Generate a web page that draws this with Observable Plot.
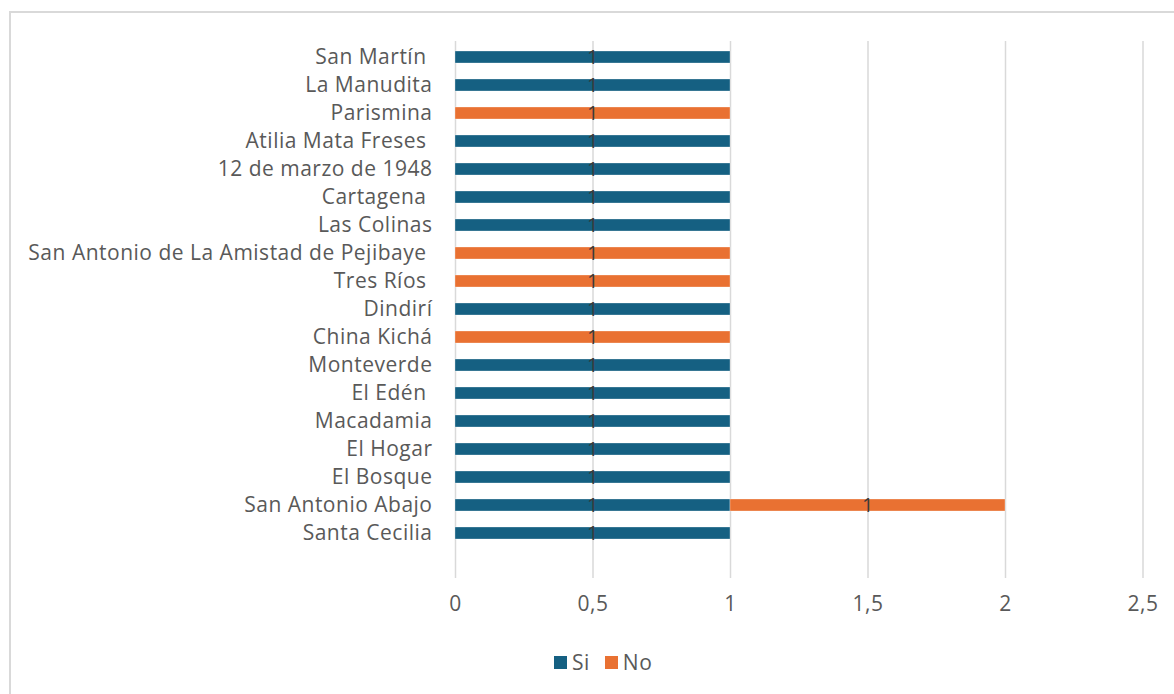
<!DOCTYPE html>
<html>
<head>
<meta charset="utf-8">
<script src="https://cdn.jsdelivr.net/npm/d3@7"></script>
<script src="https://cdn.jsdelivr.net/npm/@observablehq/plot@0.6"></script>
<style>
  html, body { margin: 0; padding: 0; background: #fff; overflow: hidden; }
  #frame { position: absolute; left: 9px; top: 11px; width: 1200px; height: 720px; border: 2px solid #d9d9d9; box-sizing: border-box; }
  #chart { position: absolute; left: 0; top: 0; }
  #chart svg text { letter-spacing: 0.5px; }
  #legend { position: absolute; top: 648px; left: 554px; display: flex; font-family: "Open Sans", sans-serif; font-size: 21px; letter-spacing: 0.5px; color: #595959; }
  .item { display: flex; align-items: center; margin-right: 15px; }
  .sw { width: 13px; height: 13px; margin-right: 5px; }
</style>
</head>
<body>
<div id="frame"></div>
<div id="chart"></div>
<div id="legend"></div>
<script>
const categories = ["San Martín ", "La Manudita", "Parismina", "Atilia Mata Freses ", "12 de marzo de 1948", "Cartagena ", "Las Colinas", "San Antonio de La Amistad de Pejibaye ", "Tres Ríos ", "Dindirí", "China Kichá", "Monteverde", "El Edén ", "Macadamia", "El Hogar", "El Bosque", "San Antonio Abajo", "Santa Cecilia"];
const siValues = [1, 1, null, 1, 1, 1, 1, null, null, 1, null, 1, 1, 1, 1, 1, 1, 1];
const noValues = [null, null, 1, null, null, null, null, 1, 1, null, 1, null, null, null, null, null, 1, null];
const seriesNames = ["Si", "No"];
const seriesColors = ["#156082", "#E97132"];
const xTicks = [0, 0.5, 1, 1.5, 2, 2.5];

const rows = [];
categories.forEach((c, i) => {
  if (siValues[i] != null) rows.push({cat: c, series: "Si", value: siValues[i]});
  if (noValues[i] != null) rows.push({cat: c, series: "No", value: noValues[i]});
});

const fmt = v => String(v).replace(".", ",");
const font = "Open Sans, sans-serif";
const yFmt = d => d.replace(/ $/, "\u00a0");

const chart = Plot.plot({
  width: 1174,
  height: 625,
  marginLeft: 455,
  marginRight: 31.5,
  marginTop: 41,
  marginBottom: 47,
  style: {fontFamily: font, fontSize: "21px", color: "#595959", background: "transparent"},
  x: {domain: [0, 2.5], ticks: xTicks, tickFormat: fmt, label: null},
  y: {domain: categories, range: [40, 549.5], paddingInner: 0.58, paddingOuter: 0.29, align: 0.5, label: null},
  color: {domain: seriesNames, range: seriesColors},
  marks: [
    Plot.ruleX(xTicks, {stroke: "#d9d9d9", strokeWidth: 1.5, strokeOpacity: 1}),
    Plot.barX(rows, Plot.stackX({x: "value", y: "cat", fill: "series", order: seriesNames, stroke: "white", strokeWidth: 0.5, strokeOpacity: 0.6})),
    Plot.text(rows, Plot.stackX({x: "value", y: "cat", z: "series", order: seriesNames, text: d => String(d.value), fill: "#3a3a3a", fontSize: 20, fontFamily: font})),
    Plot.axisX({ticks: xTicks, tickFormat: fmt, tickSize: 0, tickPadding: 18, fontSize: 21, label: null}),
    Plot.axisY({tickSize: 0, tickPadding: 23, fontSize: 21, label: null, tickFormat: yFmt})
  ]
});
document.getElementById("chart").appendChild(chart);

const legend = document.getElementById("legend");
seriesNames.forEach((s, i) => {
  const it = document.createElement("div");
  it.className = "item";
  const sw = document.createElement("div");
  sw.className = "sw";
  sw.style.background = seriesColors[i];
  const t = document.createElement("span");
  t.textContent = s;
  it.appendChild(sw); it.appendChild(t);
  legend.appendChild(it);
});
</script>
</body>
</html>
